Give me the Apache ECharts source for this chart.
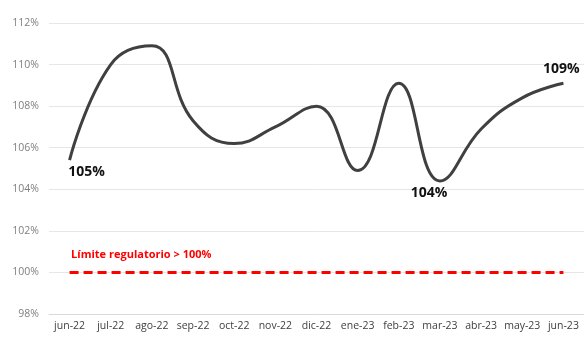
<!DOCTYPE html>
<html lang="es" style="height: 100%">
<head>
    <meta charset="UTF-8">
    <title>Indicador vs límite regulatorio</title>
</head>
<body style="height: 100%; margin: 0; background: #fff">
<div id="container" style="width: 584px; height: 337px"></div>
<script src="https://cdn.jsdelivr.net/npm/echarts/dist/echarts.min.js"></script>
<script>
    var meses = ['jun-22', 'jul-22', 'ago-22', 'sep-22', 'oct-22', 'nov-22', 'dic-22',
        'ene-23', 'feb-23', 'mar-23', 'abr-23', 'may-23', 'jun-23'];
    var valores = [105.4, 110.0, 110.9, 107.3, 106.2, 107.0, 108.0, 104.9, 109.1, 104.4, 106.9, 108.4, 109.1];
    var limite = [100, 100, 100, 100, 100, 100, 100, 100, 100, 100, 100, 100, 100];
    // etiquetas que se muestran (índice -> texto)
    var etiquetas = {0: '105%', 9: '104%', 12: '109%'};

    var chart = echarts.init(document.getElementById('container'));

    var option = {
        animation: false,
        grid: {left: 49, right: 0, top: 23, bottom: 23},
        xAxis: {
            type: 'category',
            data: meses,
            boundaryGap: true,
            axisLine: {lineStyle: {color: '#d9d9d9'}},
            axisTick: {show: false},
            axisLabel: {
                color: '#404040',
                fontFamily: 'Open Sans',
                fontSize: 10.5,
                margin: 7,
                interval: 0
            }
        },
        yAxis: {
            type: 'value',
            min: 98,
            max: 112,
            interval: 2,
            axisLine: {show: false},
            axisTick: {show: false},
            splitLine: {lineStyle: {color: '#e6e6e6'}},
            axisLabel: {
                color: '#7f7f7f',
                fontFamily: 'Open Sans',
                fontSize: 10.5,
                margin: 10,
                formatter: '{value}%'
            }
        },
        series: [
            {
                type: 'line',
                data: limite,
                symbol: 'none',
                lineStyle: {color: '#ff0000', width: 3, type: [9, 5]},
                label: {show: false},
                markPoint: {
                    symbol: 'circle',
                    symbolSize: 1,
                    itemStyle: {color: 'rgba(0,0,0,0)'},
                    data: [{coord: [0, 100], value: 0}],
                    label: {
                        show: true,
                        formatter: 'Límite regulatorio > 100%',
                        color: '#ff0000',
                        fontWeight: 'bold',
                        fontFamily: 'Open Sans',
                        fontSize: 11,
                        position: 'right',
                        offset: [-4, -18]
                    }
                }
            },
            {
                type: 'line',
                smooth: 0.45,
                symbol: 'circle',
                symbolSize: 0,
                lineStyle: {color: '#404040', width: 3},
                label: {
                    show: true,
                    color: '#111',
                    fontWeight: 'bold',
                    fontFamily: 'Open Sans',
                    fontSize: 14,
                    position: 'bottom',
                    formatter: function (p) {
                        return etiquetas[p.dataIndex] || '';
                    }
                },
                data: valores.map(function (v, i) {
                    var item = {value: v};
                    if (i === 12) {
                        item.label = {position: 'top', offset: [-2, -2]};
                    } else if (i === 0) {
                        item.label = {position: 'bottom', offset: [17, 0]};
                    } else if (i === 9) {
                        item.label = {position: 'bottom', offset: [-11, 0]};
                    }
                    return item;
                })
            }
        ]
    };

    chart.setOption(option);
</script>
</body>
</html>
